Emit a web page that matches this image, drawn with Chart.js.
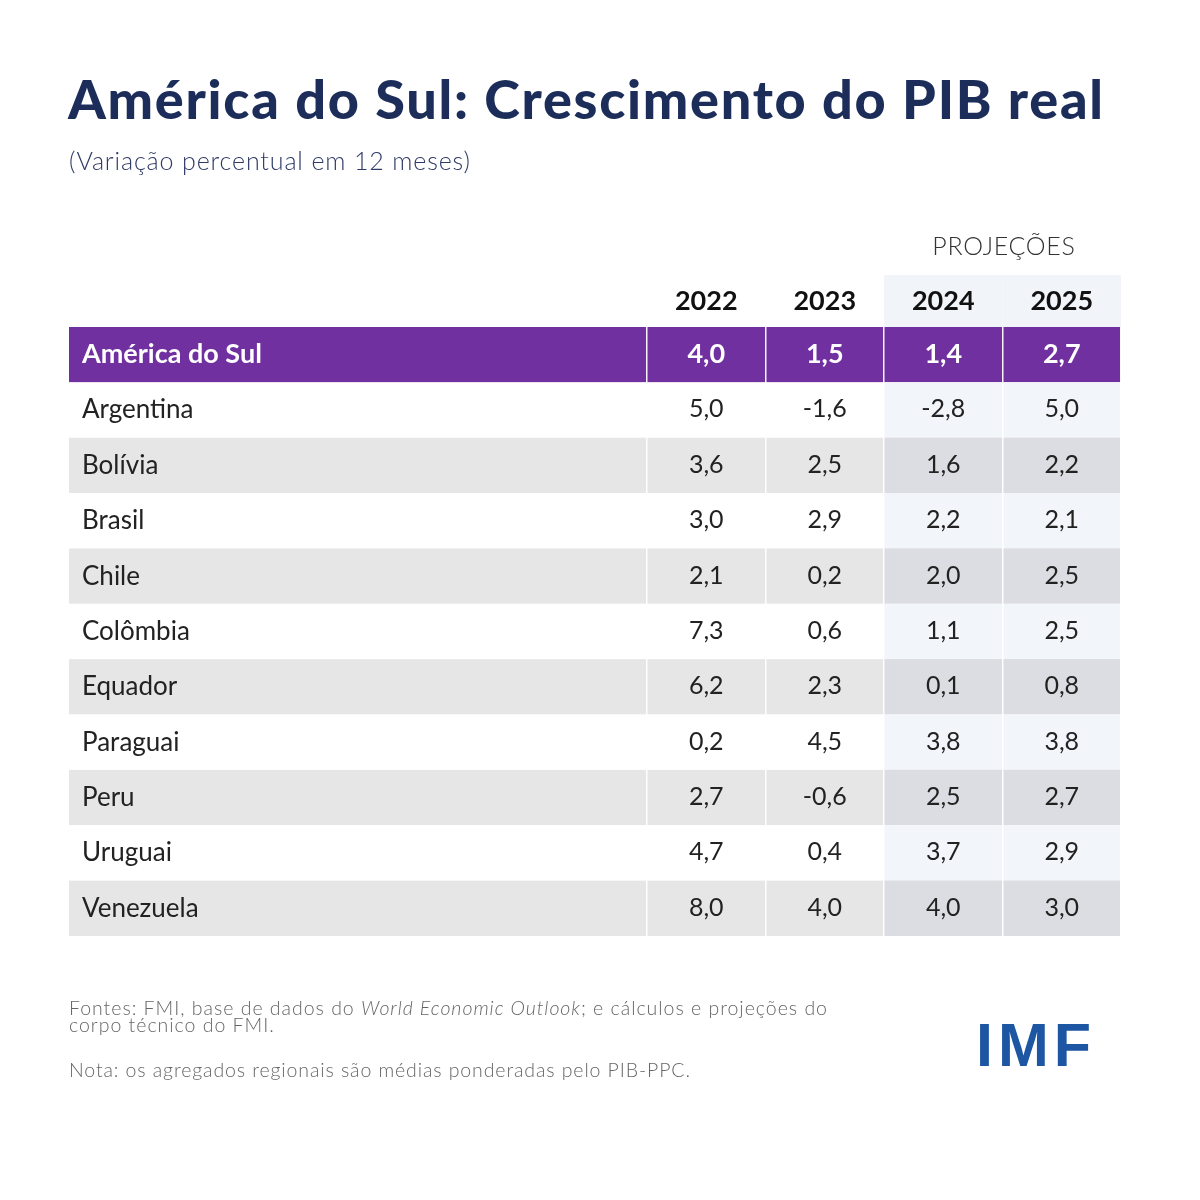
<!DOCTYPE html>
<html><head><meta charset="utf-8">
<script src="https://cdn.jsdelivr.net/npm/chart.js@4.4.1/dist/chart.umd.min.js"></script>
<style>
html,body{margin:0;padding:0;background:#fff;}
#wrap{position:relative;width:1200px;height:1200px;overflow:hidden;background:#fff;}
#c{position:absolute;left:0;top:0;}
.t{position:absolute;white-space:nowrap;line-height:1;margin:0;}
#title{left:68px;top:72px;font-family:Lato;font-weight:900;font-size:54px;color:#1c2d5a;}
#sub{left:69px;top:148px;font-family:Lato;font-weight:300;font-size:25px;color:#2f3a66;}
#proj{left:904px;width:200px;text-align:center;top:233px;font-family:Lato;font-weight:300;font-size:25px;letter-spacing:0.7px;color:#333;}
#src{left:69px;top:999px;font-family:Lato;font-weight:300;font-size:19.5px;line-height:17px;color:#666;}
#nota{left:69px;top:1060px;font-family:Lato;font-weight:300;font-size:19.5px;color:#666;}
#imf{left:976px;top:1015px;font-family:"Liberation Sans",Arial,sans-serif;font-weight:700;font-size:61px;letter-spacing:5px;color:#1d56a3;}
</style></head>
<body>
<div id="wrap">
<canvas id="c" width="1200" height="1200"></canvas>
<div class="t" id="title">América do Sul: Crescimento do PIB real</div>
<div class="t" id="sub">(Variação percentual em 12 meses)</div>
<div class="t" id="proj">PROJEÇÕES</div>
<div class="t" id="src"><span id="src1">Fontes: FMI, base de dados do <i>World Economic Outlook</i>; e cálculos e projeções do</span><br>corpo técnico do FMI.</div>
<div class="t" id="nota">Nota: os agregados regionais são médias ponderadas pelo PIB-PPC.</div>
<div class="t" id="imf">IMF</div>
</div>
<script>
// ---- Data ----
const rows = ['América do Sul','Argentina','Bolívia','Brasil','Chile','Colômbia','Equador','Paraguai','Peru','Uruguai','Venezuela'];
const years = ['2022','2023','2024','2025'];
const projYears = ['2024','2025'];
const v2022 = [4.0, 5.0, 3.6, 3.0, 2.1, 7.3, 6.2, 0.2, 2.7, 4.7, 8.0];
const v2023 = [1.5, -1.6, 2.5, 2.9, 0.2, 0.6, 2.3, 4.5, -0.6, 0.4, 4.0];
const v2024 = [1.4, -2.8, 1.6, 2.2, 2.0, 1.1, 0.1, 3.8, 2.5, 3.7, 4.0];
const v2025 = [2.7, 5.0, 2.2, 2.1, 2.5, 2.5, 0.8, 3.8, 2.7, 2.9, 3.0];
const seriesByYear = {'2022': v2022, '2023': v2023, '2024': v2024, '2025': v2025};

// fit text widths with letter-spacing
function fit(id, target, measureId) {
  const el = document.getElementById(id);
  const m = document.getElementById(measureId || id);
  const w = m.getBoundingClientRect().width;
  const n = m.textContent.length;
  el.style.letterSpacing = ((target - w) / (n - 1)) + 'px';
}
fit('title', 1035);
fit('sub', 401);
fit('src', 758, 'src1');
fit('nota', 621);

const fmt = v => v.toFixed(1).replace('.', ',');
const C = {
  purple:'#7030a0', gray:'#e6e6e6', white:'#ffffff',
  projGray:'#dcdde2', projWhite:'#f2f5fa', projHead:'#f1f4f9'
};

const tablePlugin = {
  id: 'tableCells',
  beforeDraw(chart) {
    const {ctx, chartArea: a, scales: {x, y}} = chart;
    ctx.save();
    ctx.fillStyle = '#fff';
    ctx.fillRect(0, 0, chart.width, chart.height);
    const rh = Math.abs(y.getPixelForValue(1) - y.getPixelForValue(0));
    const cw = Math.abs(x.getPixelForValue(1) - x.getPixelForValue(0));
    const tableLeft = 69;
    projYears.forEach(yr => {
      const cx = x.getPixelForValue(years.indexOf(yr));
      ctx.fillStyle = C.projHead;
      ctx.fillRect(cx - cw / 2, a.top - 52, cw, 52);
    });
    rows.forEach((r, i) => {
      const cy = y.getPixelForValue(i);
      const top = cy - rh / 2;
      const base = i === 0 ? C.purple : (i % 2 === 0 ? C.gray : C.white);
      ctx.fillStyle = base;
      ctx.fillRect(tableLeft, top, a.right - tableLeft, rh);
      if (i > 0) {
        projYears.forEach(yr => {
          const cx = x.getPixelForValue(years.indexOf(yr));
          ctx.fillStyle = i % 2 === 0 ? C.projGray : C.projWhite;
          ctx.fillRect(cx - cw / 2, top, cw, rh);
        });
      }
    });
    ctx.restore();
  },
  afterDatasetsDraw(chart) {
    const {ctx} = chart;
    ctx.save();
    ctx.textAlign = 'center';
    ctx.textBaseline = 'alphabetic';
    chart.data.datasets.forEach((ds, di) => {
      const meta = chart.getDatasetMeta(di);
      meta.data.forEach((el, i) => {
        const d = ds.data[i];
        const head = d.y === rows[0];
        const size = head ? 27 : 25;
        ctx.font = (head ? '700 ' : '400 ') + size + 'px Lato';
        ctx.fillStyle = head ? '#ffffff' : '#222222';
        ctx.fillText(fmt(d.v), el.x, el.y + 0.358 * size - 1.5);
      });
    });
    ctx.restore();
  }
};

const datasets = years.map(yr => ({
  label: yr,
  data: rows.map((r, i) => ({x: yr, y: r, v: seriesByYear[yr][i]})),
  showLine: false,
  pointRadius: 0,
  pointHoverRadius: 0,
  pointHitRadius: 0
}));

new Chart(document.getElementById('c'), {
  type: 'line',
  data: {datasets},
  plugins: [tablePlugin],
  options: {
    responsive: false,
    animation: false,
    events: [],
    layout: {padding: {left: 82, right: 79, top: 277, bottom: 264}},
    plugins: {legend: {display: false}, tooltip: {enabled: false}},
    scales: {
      x: {
        type: 'category',
        labels: years,
        position: 'top',
        offset: true,
        afterFit: s => { s.height = 50; },
        grid: {display: true, offset: true, color: 'rgba(255,255,255,0.95)', lineWidth: 1.5, drawTicks: false},
        border: {display: false},
        ticks: {
          autoSkip: false, maxRotation: 0, padding: 10,
          color: '#111',
          font: {family: 'Lato', size: 27, weight: '700'}
        }
      },
      y: {
        type: 'category',
        labels: rows,
        position: 'left',
        offset: true,
        afterFit: s => { s.width = 565; },
        grid: {display: false, drawTicks: false},
        border: {display: false},
        ticks: {
          autoSkip: false, crossAlign: 'far', padding: 0,
          color: ctx => ctx.index === 0 ? '#ffffff' : '#222222',
          font: ctx => ctx.index === 0
            ? {family: 'Lato', size: 27, weight: '700'}
            : {family: 'Lato', size: 26, weight: '400'}
        }
      }
    }
  }
});
</script>
</body></html>
